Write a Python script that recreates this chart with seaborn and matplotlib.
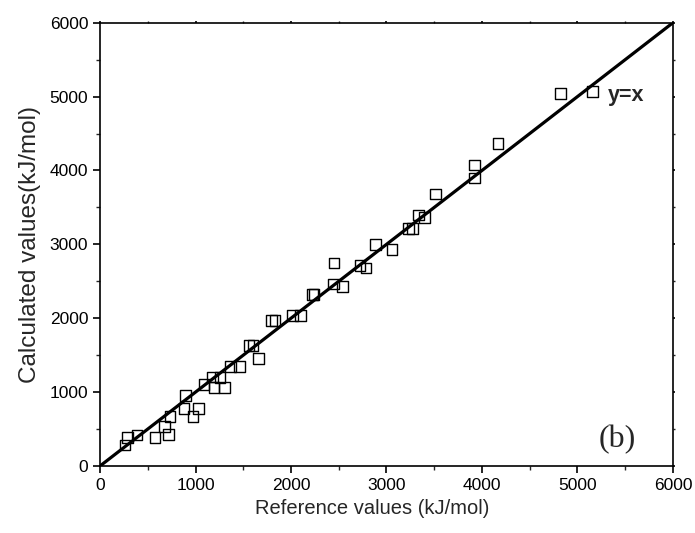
import numpy as np
import pandas as pd
import matplotlib
matplotlib.use("Agg")
import matplotlib.pyplot as plt
from matplotlib.ticker import MultipleLocator
import seaborn as sns

# Reference vs calculated values (kJ/mol)
reference = [262, 286, 388, 576, 674, 716, 733, 880, 894, 974,
             1030, 1089, 1180, 1194, 1257, 1306, 1365, 1463, 1560, 1603,
             1659, 1798, 1833, 2015, 2102, 2224, 2242, 2451, 2444, 2541,
             2723, 2786, 2884, 3058, 3233, 3274, 3334, 3396, 3513, 3925,
             3921, 4169, 4822, 5160]
calculated = [285, 384, 420, 384, 533, 424, 668, 782, 958, 673,
              782, 1107, 1206, 1066, 1197, 1066, 1351, 1351, 1636, 1636,
              1459, 1965, 1965, 2033, 2033, 2317, 2317, 2747, 2462, 2425,
              2710, 2679, 2995, 2927, 3216, 3216, 3397, 3360, 3681, 4075,
              3898, 4363, 5041, 5072]

axis_range = [0, 6000]

df = pd.DataFrame({"reference": reference, "calculated": calculated})
diag = pd.DataFrame({"x": axis_range, "y": axis_range})

sns.set_style("ticks")
plt.rcParams["font.family"] = ["Liberation Sans", "DejaVu Sans"]

fig = plt.figure(figsize=(6.95, 5.33), dpi=100)
ax = fig.add_axes([0.1439, 0.1257, 0.8244, 0.8317])

# y = x reference line
sns.lineplot(data=diag, x="x", y="y", color="black", linewidth=2.3, ax=ax)

sns.scatterplot(data=df, x="reference", y="calculated", marker="s",
                s=60, facecolors="none", edgecolor="black",
                linewidth=1.0, ax=ax, zorder=3)

ax.set_xlim(axis_range)
ax.set_ylim(axis_range)
ax.xaxis.set_major_locator(MultipleLocator(1000))
ax.yaxis.set_major_locator(MultipleLocator(1000))
ax.xaxis.set_minor_locator(MultipleLocator(500))
ax.yaxis.set_minor_locator(MultipleLocator(500))

ax.tick_params(which="major", direction="out", length=5, width=1.2,
               labelsize=12.5, colors="black")
ax.tick_params(which="minor", direction="out", length=3, width=1.0)
ax.tick_params(which="both", top=True, right=True,
               labeltop=False, labelright=False)
# tiny ticks on the top / right frame
for t in ax.xaxis.get_major_ticks() + ax.xaxis.get_minor_ticks():
    t.tick2line.set_markersize(1.5)
for t in ax.yaxis.get_major_ticks() + ax.yaxis.get_minor_ticks():
    t.tick2line.set_markersize(1.5)

for spine in ax.spines.values():
    spine.set_visible(True)
    spine.set_linewidth(1.2)
    spine.set_color("black")

ax.set_xlabel("Reference values (kJ/mol)", fontsize=14.5)
ax.xaxis.set_label_coords(0.475, -0.075)
ax.set_ylabel("Calculated values(kJ/mol)", fontsize=17.5, labelpad=6)

ax.text(5319, 5020, "y=x", fontsize=15.5, fontweight="bold",
        ha="left", va="center")
ax.text(5414, 352, "(b)", fontsize=23, family="Liberation Serif",
        ha="center", va="center")

fig.savefig("out.png", dpi=100)
